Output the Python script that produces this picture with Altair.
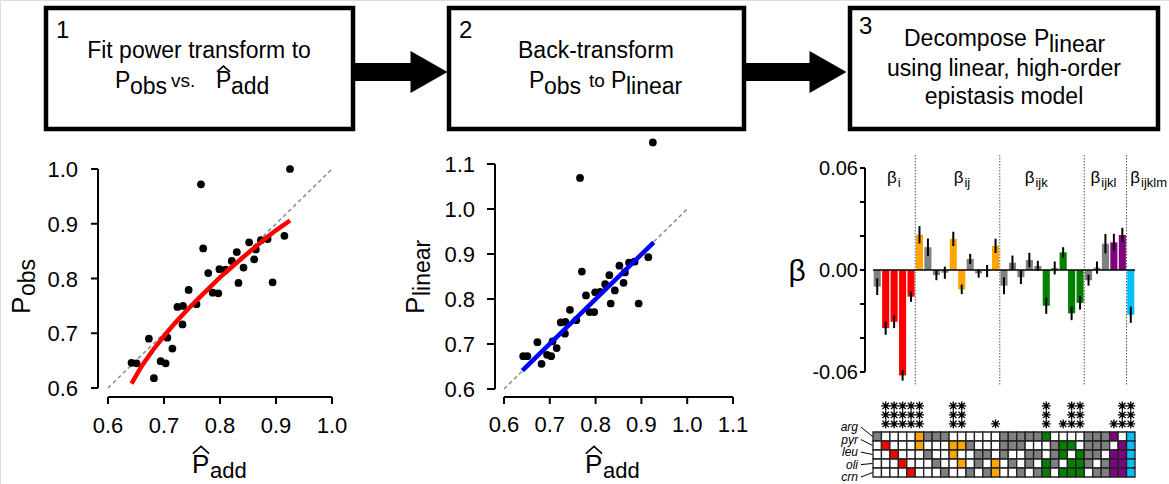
import altair as alt
import pandas as pd

W, H = 1169, 484
FONT = "Liberation Sans"

# ---------------- data ----------------
p_add = [0.642, 0.651, 0.673, 0.682, 0.694, 0.703, 0.706, 0.715, 0.724, 0.733, 0.734,
         0.744, 0.758, 0.766, 0.770, 0.779, 0.787, 0.797, 0.799, 0.810, 0.821, 0.830,
         0.833, 0.842, 0.852, 0.861, 0.864, 0.873, 0.885, 0.894, 0.915, 0.925]
p_obs = [0.646, 0.645, 0.690, 0.618, 0.649, 0.645, 0.692, 0.672, 0.748, 0.716, 0.750,
         0.779, 0.753, 0.972, 0.855, 0.810, 0.774, 0.773, 0.817, 0.816, 0.832, 0.848,
         0.792, 0.820, 0.866, 0.835, 0.853, 0.870, 0.872, 0.793, 0.878, 1.000]
p_linear = [0.673, 0.673, 0.704, 0.656, 0.676, 0.673, 0.706, 0.691, 0.748, 0.723, 0.749,
            0.776, 0.753, 1.069, 0.861, 0.808, 0.771, 0.771, 0.815, 0.816, 0.833, 0.853,
            0.790, 0.819, 0.874, 0.836, 0.859, 0.881, 0.883, 0.790, 0.893, 1.148]

fit_x = [0.642, 0.66, 0.68, 0.70, 0.72, 0.74, 0.76, 0.78, 0.80, 0.82, 0.84, 0.86, 0.88, 0.90, 0.925]
fit_y = [0.608, 0.640, 0.669, 0.695, 0.719, 0.741, 0.762, 0.782, 0.802, 0.820, 0.838, 0.855, 0.872, 0.888, 0.906]
lin_x = [0.640, 0.927]
lin_y = [0.641, 0.926]
diag = [0.6, 1.0]

ticks1 = [0.6, 0.7, 0.8, 0.9, 1.0]
ticks2 = [0.6, 0.7, 0.8, 0.9, 1.0, 1.1]
beta_ticks = [-0.06, -0.04, -0.02, 0.0, 0.02, 0.04, 0.06]
beta_tick_labels = ["-0.06", "", "", "0.00", "", "", "0.06"]

terms = ["1", "2", "3", "4", "5",
         "12", "13", "14", "15", "23", "24", "25", "34", "35", "45",
         "123", "124", "125", "134", "135", "145", "234", "235", "245", "345",
         "1234", "1235", "1245", "1345", "2345", "12345"]
beta = [-0.0098, -0.0342, -0.0305, -0.0620, -0.0157,
        0.0207, 0.0134, -0.0030, -0.0016, 0.0183, -0.0114, 0.0065, -0.0020, -0.0006, 0.0142,
        -0.0092, 0.0043, -0.0043, 0.0059, 0.0024, -0.0210, 0.0012, 0.0104, -0.0255, -0.0193,
        -0.0060, 0.0014, 0.0155, 0.0163, 0.0206, -0.0263]
beta_err = [0.0049, 0.0039, 0.0037, 0.0031, 0.0030,
            0.0051, 0.0051, 0.0030, 0.0036, 0.0042, 0.0028, 0.0030, 0.0025, 0.0036, 0.0042,
            0.0050, 0.0042, 0.0040, 0.0042, 0.0030, 0.0048, 0.0038, 0.0030, 0.0040, 0.0040,
            0.0032, 0.0036, 0.0057, 0.0050, 0.0042, 0.0048]
stars = [0, 3, 3, 3, 3,
         3, 0, 0, 0, 3, 3, 0, 0, 0, 1,
         0, 0, 0, 0, 0, 3, 0, 1, 3, 3,
         0, 0, 0, 1, 3, 3]
sites = ["arg", "pyr", "leu", "oli", "crn"]
orders = ["i", "ij", "ijk", "ijkl", "ijklm"]
order_colors = ["#FF0000", "#FFA500", "#008000", "#800080", "#00BFFF"]
ns_color = "#808080"

# ---------------- helpers ----------------
def lin(domain, rng):
    return alt.Scale(domain=domain, range=rng, nice=False, zero=False)


def X(field, scale):
    return alt.X(field, scale=scale, axis=None)


def Y(field, scale):
    return alt.Y(field, scale=scale, axis=None)


def x_axis(xs, y_px, values, labels, tick=7, base=433, fs=22):
    df = pd.DataFrame({"v": values, "lab": labels})
    dom = alt.Chart(pd.DataFrame({"a": [min(values)], "b": [max(values)]})).mark_rule(
        color="black", strokeWidth=2).encode(x=X("a:Q", xs), x2="b:Q", y=alt.value(y_px))
    tk = alt.Chart(df).mark_rule(color="black", strokeWidth=2).encode(
        x=X("v:Q", xs), y=alt.value(y_px), y2=alt.value(y_px + tick))
    lb = alt.Chart(df).mark_text(align="center", baseline="alphabetic", font=FONT, fontSize=fs,
                                 color="black").encode(x=X("v:Q", xs), y=alt.value(base), text="lab:N")
    return [dom, tk, lb]


def y_axis(ys, x_px, values, labels, tick=7, gap=13, fs=22):
    df = pd.DataFrame({"v": values, "lab": labels})
    dom = alt.Chart(pd.DataFrame({"a": [min(values)], "b": [max(values)]})).mark_rule(
        color="black", strokeWidth=2).encode(y=Y("a:Q", ys), y2="b:Q", x=alt.value(x_px))
    tk = alt.Chart(df).mark_rule(color="black", strokeWidth=2).encode(
        y=Y("v:Q", ys), x=alt.value(x_px - tick), x2=alt.value(x_px))
    lb = alt.Chart(df).mark_text(align="right", baseline="middle", font=FONT, fontSize=fs, dy=1,
                                 color="black").encode(y=Y("v:Q", ys), x=alt.value(x_px - tick - gap),
                                                       text="lab:N")
    return [dom, tk, lb]

# ---------------- panel 1 ----------------
xs1 = lin([0.6, 1.0], [108, 332])
ys1 = lin([0.6, 1.0], [388, 169])
lab1 = [f"{v:.1f}" for v in ticks1]

df_pts1 = pd.DataFrame({"x": p_add, "y": p_obs})
df_fit = pd.DataFrame({"x": fit_x, "y": fit_y})
df_diag = pd.DataFrame({"x": diag, "y": diag})

panel1 = alt.layer(
    *x_axis(xs1, 397, ticks1, lab1, base=433),
    *y_axis(ys1, 98, ticks1, lab1),
    alt.Chart(df_diag).mark_line(color="#8c8c8c", strokeDash=[4, 3], strokeWidth=1.5).encode(
        x=X("x:Q", xs1), y=Y("y:Q", ys1)),
    alt.Chart(df_pts1).mark_circle(size=60, color="black", opacity=1).encode(
        x=X("x:Q", xs1), y=Y("y:Q", ys1)),
    alt.Chart(df_fit).mark_line(color="#FF0000", strokeWidth=4.5).encode(
        x=X("x:Q", xs1), y=Y("y:Q", ys1)),
)

# ---------------- panel 2 ----------------
xs2 = lin([0.6, 1.1], [504, 733])
ys2 = lin([0.6, 1.1], [389, 164])
lab2 = [f"{v:.1f}" for v in ticks2]
df_pts2 = pd.DataFrame({"x": p_add, "y": p_linear})
df_lin = pd.DataFrame({"x": lin_x, "y": lin_y})

panel2 = alt.layer(
    *x_axis(xs2, 397, ticks2, lab2, base=432),
    *y_axis(ys2, 495, ticks2, lab2, tick=8, gap=12),
    alt.Chart(df_diag).mark_line(color="#8c8c8c", strokeDash=[4, 3], strokeWidth=1.5).encode(
        x=X("x:Q", xs2), y=Y("y:Q", ys2)),
    alt.Chart(df_pts2).mark_circle(size=60, color="black", opacity=1).encode(
        x=X("x:Q", xs2), y=Y("y:Q", ys2)),
    alt.Chart(df_lin).mark_line(color="#0000FF", strokeWidth=4.5).encode(
        x=X("x:Q", xs2), y=Y("y:Q", ys2)),
)

# ---------------- panel 3: coefficients ----------------
cols = [order_colors[len(t) - 1] if s > 0 else ns_color for t, s in zip(terms, stars)]
df_beta = pd.DataFrame({"idx": list(range(1, 32)), "beta": beta, "err": beta_err, "col": cols})
xb = lin([0.5, 31.5], [873, 1135])
yb = lin([-0.06, 0.06], [372, 168])

bars = alt.Chart(df_beta).transform_calculate(
    x0="datum.idx - 0.42", x1="datum.idx + 0.42", zero="0"
).mark_rect(opacity=1).encode(
    x=X("x0:Q", xb), x2="x1:Q",
    y=Y("beta:Q", yb), y2="zero:Q",
    color=alt.Color("col:N", scale=None),
)
errs = alt.Chart(df_beta).transform_calculate(
    lo="datum.beta - datum.err", hi="datum.beta + datum.err"
).mark_rule(color="black", strokeWidth=2).encode(
    x=X("idx:Q", xb), y=Y("lo:Q", yb), y2="hi:Q"
)
zero_line = alt.Chart(pd.DataFrame({"a": [0.5], "b": [31.5], "z": [0.0]})).mark_rule(
    color="black", strokeWidth=1.5
).encode(x=X("a:Q", xb), x2="b:Q", y=Y("z:Q", yb))

group_bounds = [5.5, 15.5, 25.5, 30.5]
dividers = alt.Chart(pd.DataFrame({"b": group_bounds})).mark_rule(
    color="#555555", strokeDash=[1.5, 1.5], strokeWidth=1
).encode(x=X("b:Q", xb), y=alt.value(155), y2=alt.value(386))

label_anchor = [3.3, 11.2, 19.6, 27.4, 32.1]
df_glab = pd.DataFrame({"a": label_anchor, "sub": orders, "ly": [0.0512] * 5})
glab_b = alt.Chart(df_glab).mark_text(text="β", align="right", baseline="alphabetic",
                                       font=FONT, fontSize=17, color="black", fill="black").encode(
    x=X("a:Q", xb), y=Y("ly:Q", yb))
glab_s = alt.Chart(df_glab).mark_text(align="left", baseline="alphabetic", dx=1, dy=4,
                                       font=FONT, fontSize=13, color="black", fill="black").encode(
    x=X("a:Q", xb), y=Y("ly:Q", yb), text="sub:N")

coef = alt.layer(bars, dividers, zero_line, errs, glab_b, glab_s,
                 *y_axis(yb, 865, beta_ticks, beta_tick_labels, tick=5, gap=2, fs=20))

# ---------------- panel 3: design grid ----------------
cells = []
for i, (t, c) in enumerate(zip(terms, cols), start=1):
    for r in range(1, 6):
        cells.append({"idx": i, "row": r, "fill": c if str(r) in t else "white"})
df_cells = pd.DataFrame(cells)
xg = lin([0.5, 31.5], [873, 1135])
yg = lin([0.5, 5.5], [432, 477])

grid_cells = alt.Chart(df_cells).transform_calculate(
    x0="datum.idx - 0.5", x1="datum.idx + 0.5", y0="datum.row - 0.5", y1="datum.row + 0.5"
).mark_rect(stroke="#222222", strokeWidth=1.3, opacity=1).encode(
    x=X("x0:Q", xg), x2="x1:Q",
    y=Y("y0:Q", yg), y2="y1:Q",
    fill=alt.Fill("fill:N", scale=None),
)
star_rows = [{"idx": i, "lvl": l} for i, s in enumerate(stars, start=1) for l in range(1, s + 1)]
star_path = "M-1,0L1,0M0,-1L0,1M-0.72,-0.72L0.72,0.72M-0.72,0.72L0.72,-0.72"
grid_stars = alt.Chart(pd.DataFrame(star_rows)).transform_calculate(
    sy="0.6 - datum.lvl"
).mark_point(shape=star_path, filled=False, size=80, strokeWidth=1.4, color="black", opacity=1).encode(
    x=X("idx:Q", xg), y=Y("sy:Q", yg)
)
df_sites = pd.DataFrame({"row": [1, 2, 3, 4, 5], "site": sites, "lx": [0.5] * 5})
site_lab = alt.Chart(df_sites).transform_calculate(
    ly="-0.05 + (datum.row - 1) * 1.39"
).mark_text(align="right", baseline="middle", font=FONT, fontSize=12, fontStyle="italic",
            color="black", dx=-15).encode(
    x=X("lx:Q", xg), y=Y("ly:Q", yg), text="site:N"
)
site_conn = alt.Chart(df_sites).mark_rule(color="black", strokeWidth=1).transform_calculate(
    ly="-0.05 + (datum.row - 1) * 1.39", cx="0.5 - 12 / 8.45", cx2="0.45"
).encode(
    x=X("cx:Q", xg), x2="cx2:Q", y=Y("ly:Q", yg), y2="row:Q"
)
design = alt.layer(grid_cells, grid_stars, site_lab, site_conn)

# ---------------- flow boxes, arrows and composed titles (pixel layer) ----------------
pxs = lin([0, W], [0, W])
pys = lin([0, H], [0, H])
boxes = pd.DataFrame({"x0": [46, 449, 850], "x1": [353, 744, 1158], "y0": [8, 8, 8], "y1": [129, 129, 129]})
shafts = pd.DataFrame({"x0": [353, 744], "x1": [412, 810], "y0": [63, 63], "y1": [81, 81]})
heads = pd.DataFrame({"x": [429, 828], "y": [72, 72]})
hats = pd.DataFrame({"x": [223.5, 201, 594], "y": [69, 450, 450], "s": [170, 260, 260]})

texts = [
    (56, 38, "1", 24, "l"), (199, 58, "Fit power transform to", 23, "c"),
    (115, 88, "P", 23, "l"), (130, 94, "obs", 23, "l"), (171, 87, "vs.", 19, "l"),
    (216, 88, "P", 23, "l"), (231, 94, "add", 23, "l"),
    (459, 38, "2", 24, "l"), (596, 58, "Back-transform", 23, "c"),
    (529, 88, "P", 23, "l"), (544, 94, "obs", 23, "l"), (589, 87, "to", 19, "l"),
    (611, 88, "P", 23, "l"), (626, 94, "linear", 23, "l"),
    (859, 34, "3", 24, "l"), (904, 46, "Decompose", 23, "l"), (1034, 46, "P", 23, "l"),
    (1049, 52, "linear", 23, "l"),
    (1004, 76, "using linear, high-order", 23, "c"), (1004, 104, "epistasis model", 23, "c"),
    (192, 473, "P", 26, "l"), (210, 478, "add", 22, "l"),
    (585, 473, "P", 26, "l"), (603, 478, "add", 22, "l"),
    (30, 314, "P", 26, "r"), (35, 296, "obs", 23, "r"),
    (424, 314, "P", 26, "r"), (430, 296, "linear", 23, "r"),
    (797, 281, "β", 30, "c"),
]
df_txt = pd.DataFrame(texts, columns=["px", "py", "t", "fs", "kind"])

box_l = alt.Chart(boxes).mark_rect(fill="white", stroke="black", strokeWidth=4.5).encode(
    x=X("x0:Q", pxs), x2="x1:Q", y=Y("y0:Q", pys), y2="y1:Q")
shaft_l = alt.Chart(shafts).mark_rect(color="black").encode(
    x=X("x0:Q", pxs), x2="x1:Q", y=Y("y0:Q", pys), y2="y1:Q")
head_l = alt.Chart(heads).mark_point(shape="M-0.88,-1L0.88,0L-0.88,1Z", filled=True, size=42 * 42,
                                     color="black", opacity=1).encode(
    x=X("x:Q", pxs), y=Y("y:Q", pys))
hat_l = alt.Chart(hats).mark_point(shape="M-1,0.45L0,-0.45L1,0.45", filled=False, strokeWidth=1.6,
                                   color="black", opacity=1).encode(
    x=X("x:Q", pxs), y=Y("y:Q", pys), size=alt.Size("s:Q", scale=None))


def txt_layer(kind, align, angle=0):
    mk = dict(align=align, baseline="alphabetic", font=FONT, color="black")
    if angle:
        mk["angle"] = angle
    return alt.Chart(df_txt).transform_filter(alt.datum.kind == kind).mark_text(**mk).encode(
        x=X("px:Q", pxs), y=Y("py:Q", pys),
        text="t:N", size=alt.Size("fs:Q", scale=None))


top = alt.layer(box_l, shaft_l, head_l, hat_l,
                txt_layer("l", "left"), txt_layer("c", "center"), txt_layer("r", "left", 270))

chart = alt.layer(top, panel1, panel2, coef, design).resolve_scale(
    x="independent", y="independent"
).properties(
    width=W, height=H, padding=0, autosize=alt.AutoSizeParams(type="none")
).configure_view(stroke=None).configure(background="white")

chart.save("out.html", embed_options={"renderer": "svg", "actions": False})
